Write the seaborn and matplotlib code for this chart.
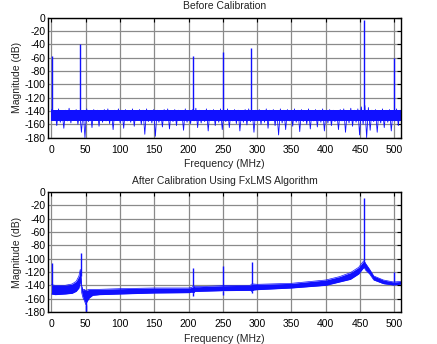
import numpy as np
import pandas as pd
import matplotlib
matplotlib.use("Agg")
import matplotlib.pyplot as plt
import seaborn as sns

# ---------------- data ----------------
# Before calibration: noise floor (dB), evenly spaced bins across 0..511 MHz
before_floor = [
    -138, -154, -140, -162, -137, -157, -141, -166, -139, -155,
    -136, -158, -140, -153, -138, -160, -141, -172, -139, -180,
    -137, -156, -140, -165, -138, -152, -139, -163, -141, -157,
    -138, -155, -137, -159, -140, -168, -139, -154, -137, -158,
    -139, -166, -138, -155, -141, -157, -137, -163, -140, -153,
    -138, -160, -139, -175, -137, -156, -140, -158, -138, -178,
    -139, -157, -141, -164, -138, -155, -137, -167, -140, -156,
    -138, -162, -139, -154, -141, -169, -137, -157, -140, -159,
    -138, -155, -136, -165, -139, -158, -141, -156, -137, -170,
    -139, -154, -138, -162, -140, -157, -137, -168, -139, -156,
    -137, -165, -140, -155, -138, -159, -139, -170, -141, -157,
    -138, -161, -137, -156, -140, -172, -139, -155, -138, -160,
    -140, -157, -137, -166, -139, -154, -138, -162, -141, -176,
    -137, -158, -139, -168, -138, -155, -140, -163, -137, -157,
    -139, -171, -138, -156, -141, -160, -137, -167, -140, -155,
    -138, -164, -139, -157, -137, -170, -140, -158, -138, -162,
    -139, -156, -141, -168, -138, -155, -137, -172, -140, -158,
    -136, -163, -139, -157, -137, -176, -134, -160, -132, -180,
    -135, -169, -139, -156, -138, -172, -140, -158, -137, -165,
    -139, -157, -138, -170, -140, -155, -137, -162, -139, -158,
]
before_core = (-155, -139)          # dense part of the noise band (dB)
freq_max = 511
before_spike_freq = [0.5, 42, 207, 250, 291, 456, 499]
before_spike_db = [-57, -40, -57, -52, -46, -4, -60]

# After calibration: band envelope (dB)
after_freq = [0, 5, 20, 30, 36, 40, 42, 43, 44, 46, 48, 50, 52, 55, 60, 70,
              100, 150, 200, 205, 207, 209, 215, 250, 290, 292, 295, 300,
              350, 400, 420, 436, 448, 454, 456, 458, 464, 470, 484, 499, 511]
after_upper = [-139, -140, -140, -138, -134, -126, -116, -126, -141, -147,
               -146, -148, -147, -146, -146, -146, -145, -144, -144, -143,
               -141, -142, -142, -140.5, -140, -138, -138, -138.5, -137, -132,
               -127, -121, -113, -105, -103, -107, -116, -126, -132, -135, -134]
after_lower = [-153, -154, -153, -152, -149, -144, -134, -139, -151, -159,
               -163, -169, -164, -159, -155, -154, -153, -151.5, -151, -150,
               -152, -149, -149, -148, -147.5, -149, -147, -146.5, -144, -140,
               -135, -131, -123, -115, -113, -117, -123, -132, -137.5, -139.5, -138]
after_spike_freq = [0.5, 43, 207, 250, 292, 456, 499]
after_spike_db = [-106, -91, -114, -111, -105, -9, -120]
after_dip_freq = [50, 51, 207, 250, 292]
after_dip_db = [-180, -178, -156, -155, -152]

yticks = list(range(-180, 1, 20))
xticks = list(range(0, 501, 50))

# ---------------- style ----------------
sns.set_style("white")
plt.rcParams["font.family"] = ["Liberation Sans", "DejaVu Sans"]
plt.rcParams["axes.unicode_minus"] = False

BLUE = "#1010ff"
GRID = "#8a8a8a"
FS = 7.5

fig = plt.figure(figsize=(4.37, 3.44), dpi=100)
ax1 = fig.add_axes([0.110, 0.600, 0.808, 0.349])
ax2 = fig.add_axes([0.110, 0.093, 0.808, 0.349])

# top panel
bf = pd.DataFrame({"f": np.linspace(0, freq_max, len(before_floor)),
                   "db": before_floor})
ax1.fill_between([0, freq_max], before_core[0], before_core[1],
                 color=BLUE, lw=0, zorder=3)
sns.lineplot(data=bf, x="f", y="db", ax=ax1, color=BLUE, lw=0.6,
             sort=False, estimator=None, zorder=3)
ax1.vlines(before_spike_freq, -145, before_spike_db, color=BLUE, lw=1.0,
           zorder=4)

# bottom panel
af = pd.DataFrame({"f": after_freq, "up": after_upper, "lo": after_lower})
ax2.fill_between(af["f"], af["lo"], af["up"], color=BLUE, lw=0, zorder=3)
sns.lineplot(data=af, x="f", y="up", ax=ax2, color=BLUE, lw=0.5,
             sort=False, estimator=None, zorder=3)
sns.lineplot(data=af, x="f", y="lo", ax=ax2, color=BLUE, lw=0.5,
             sort=False, estimator=None, zorder=3)
base = np.interp(after_spike_freq, after_freq, after_upper)
ax2.vlines(after_spike_freq, base, after_spike_db, color=BLUE, lw=1.0,
           zorder=4)
base_lo = np.interp(after_dip_freq, after_freq, after_lower)
ax2.vlines(after_dip_freq, base_lo, after_dip_db, color=BLUE, lw=1.0,
           zorder=4)

titles = ["Before Calibration", "After Calibration Using FxLMS Algorithm"]
for ax, t in zip([ax1, ax2], titles):
    ax.set_xlim(-5, 510)
    ax.set_ylim(-180, 0)
    ax.set_xticks(xticks)
    ax.set_yticks(yticks)
    ax.set_xticklabels([str(v) for v in xticks], fontsize=FS)
    ax.set_yticklabels([str(v) for v in yticks], fontsize=FS)
    ax.grid(True, color=GRID, lw=0.9, zorder=0)
    ax.set_axisbelow(True)
    ax.tick_params(direction="in", top=True, right=True, length=3,
                   width=0.8, colors="black")
    ax.tick_params(axis="x", pad=5)
    ax.tick_params(axis="y", pad=2)
    for s in ax.spines.values():
        s.set_color("black")
        s.set_linewidth(1.0)
        s.set_zorder(5)
    ax.set_xlabel("Frequency (MHz)", fontsize=FS, labelpad=3.5, color="#222222")
    ax.set_ylabel("Magnitude (dB)", fontsize=FS, labelpad=2, color="#222222")
    ax.set_title(t, fontsize=FS, pad=6, color="#222222")

fig.savefig("out.png", dpi=100)
